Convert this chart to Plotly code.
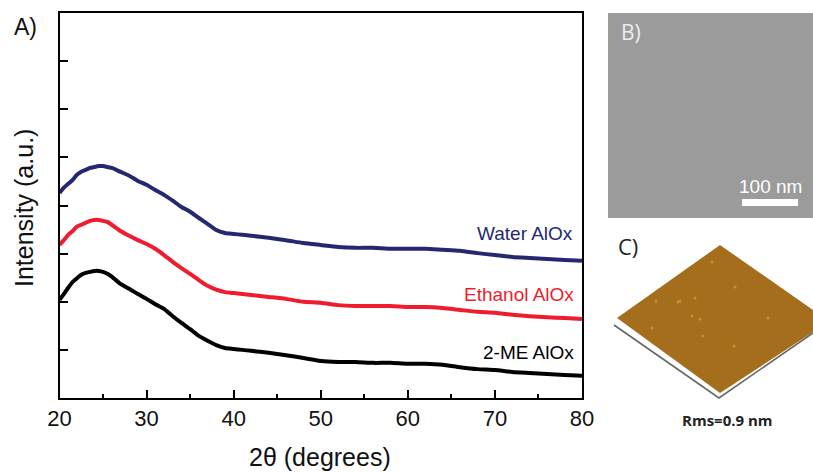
import plotly.graph_objects as go

W, H = 813, 472
FONT = "Liberation Sans"

two_theta = [20, 20.5, 21, 21.5, 22, 22.5, 23, 23.5, 24, 24.5, 25, 25.5, 26, 27, 28, 29, 30, 31, 32, 33, 34, 35, 36,
             37, 38, 39, 40, 41, 42, 44, 46, 48, 50, 52, 54, 56, 58, 60, 62, 64, 66, 68, 70, 72, 74, 76, 78, 80]
water = [4.26, 4.37, 4.45, 4.53, 4.64, 4.70, 4.74, 4.78, 4.80, 4.82, 4.82, 4.80, 4.78, 4.70, 4.62, 4.51, 4.43, 4.32,
         4.22, 4.10, 3.97, 3.87, 3.74, 3.62, 3.49, 3.43, 3.41, 3.39, 3.37, 3.33, 3.28, 3.22, 3.18, 3.14, 3.12, 3.12,
         3.10, 3.10, 3.10, 3.08, 3.06, 3.01, 2.97, 2.93, 2.91, 2.89, 2.87, 2.85]
ethanol = [3.18, 3.28, 3.39, 3.47, 3.56, 3.60, 3.64, 3.68, 3.70, 3.70, 3.68, 3.66, 3.60, 3.47, 3.37, 3.28, 3.20, 3.10,
           2.97, 2.83, 2.70, 2.58, 2.45, 2.33, 2.25, 2.20, 2.18, 2.16, 2.14, 2.10, 2.06, 2.00, 1.98, 1.93, 1.91, 1.91,
           1.91, 1.89, 1.89, 1.87, 1.83, 1.79, 1.77, 1.73, 1.70, 1.68, 1.66, 1.64]
two_me = [2.04, 2.16, 2.29, 2.41, 2.49, 2.56, 2.60, 2.62, 2.64, 2.64, 2.62, 2.58, 2.52, 2.37, 2.27, 2.16, 2.06, 1.95,
          1.85, 1.70, 1.56, 1.43, 1.29, 1.19, 1.10, 1.04, 1.02, 1.00, 0.98, 0.94, 0.89, 0.83, 0.77, 0.75, 0.75, 0.73,
          0.73, 0.71, 0.71, 0.69, 0.64, 0.60, 0.58, 0.54, 0.52, 0.50, 0.48, 0.46]
series_names = ["Water AlOx", "Ethanol AlOx", "2-ME AlOx"]
series_colors = ["#25286f", "#ee1c2e", "#000000"]
x_ticks = [20, 30, 40, 50, 60, 70, 80]
speck_x = [680, 692, 703, 700, 678, 734, 656, 768, 712, 735, 652, 695]
speck_y = [301, 316, 336, 319, 302, 346, 301, 318, 262, 287, 328, 298]


def px(v):
    return v / W


def py(v):
    return 1 - v / H


fig = go.Figure()
for name, vals, col in zip(series_names, [water, ethanol, two_me], series_colors):
    fig.add_trace(go.Scatter(x=two_theta, y=vals, name=name, mode="lines", showlegend=False,
                             line=dict(color=col, width=4, shape="spline", smoothing=0.6)))
fig.add_trace(go.Scatter(x=speck_x, y=speck_y, xaxis="x2", yaxis="y2", mode="markers", showlegend=False,
                         marker=dict(color="#c5922c", size=3)))

axis_line = dict(showline=True, linecolor="#000", linewidth=2, mirror=True, showgrid=False, zeroline=False,
                 automargin=False)
fig.update_layout(
    width=W, height=H, margin=dict(l=0, r=0, t=0, b=0), paper_bgcolor="#fff", plot_bgcolor="rgba(0,0,0,0)",
    font=dict(family=FONT, color="#111"),
    xaxis=dict(domain=[px(59.5), px(582)], range=[20, 80], tickvals=x_ticks, ticks="inside", ticklen=8, tickwidth=1.5,
               tickcolor="#000", minor=dict(dtick=5, ticks="inside", ticklen=4, tickwidth=1.5, tickcolor="#000"),
               tickfont=dict(size=22), **axis_line),
    yaxis=dict(domain=[py(398), py(13)], range=[0, 8], tickvals=[1, 2, 3, 4, 5, 6, 7], ticks="inside", ticklen=8,
               tickwidth=1.5, tickcolor="#000", showticklabels=False, **axis_line),
    xaxis2=dict(domain=[0, 1], range=[0, W], visible=False, anchor="y2", fixedrange=True),
    yaxis2=dict(domain=[0, 1], range=[H, 0], visible=False, anchor="x2", fixedrange=True),
)


def rect(x0, y0, x1, y1, col):
    fig.add_shape(type="rect", xref="paper", yref="paper", x0=px(x0), x1=px(x1), y0=py(y1), y1=py(y0),
                  fillcolor=col, line_width=0, layer="below")


def poly(points, fill=None, line=None, layer="below"):
    d = "M " + " L ".join(f"{px(a):.5f} {py(b):.5f}" for a, b in points)
    if fill:
        d += " Z"
    fig.add_shape(type="path", xref="paper", yref="paper", path=d, fillcolor=fill,
                  line=dict(color=line or "rgba(0,0,0,0)", width=1.6 if line else 0), layer=layer)


rect(608, 13, 813, 218, "#9b9b9b")
rect(742, 199, 798, 206, "#ffffff")
poly([(720, 245), (813, 310), (813, 332), (720, 393), (617, 318)], fill="#a46e1d")
poly([(614, 325), (719, 398), (813, 333)], line="#666666")


def label(text, x, y, size, col="#111", bold=False, family=FONT, angle=0):
    fig.add_annotation(text=f"<b>{text}</b>" if bold else text, xref="paper", yref="paper", x=px(x), y=py(y),
                       showarrow=False, xanchor="center", yanchor="middle", textangle=angle,
                       font=dict(size=size, color=col, family=family))


label("A)", 25, 27, 23)
label("B)", 631, 32, 21, "#ececec", family="Open Sans")
label("C)", 628, 246, 22, "#222", family="Open Sans")
label("100 nm", 770, 186, 19, "#ffffff")
label("Rms=0.9 nm", 727, 420, 15, "#222", bold=True, family="Open Sans")
label(series_names[0], 524.5, 233, 19, series_colors[0])
label(series_names[1], 519, 294, 19, series_colors[1])
label(series_names[2], 528, 352, 19, series_colors[2])
label("2θ (degrees)", 320, 456.5, 25)
label("Intensity (a.u.)", 24, 208, 25, angle=-90)

fig.write_html("out.html", post_script="document.body.style.margin='0';", config=dict(displayModeBar=False))
